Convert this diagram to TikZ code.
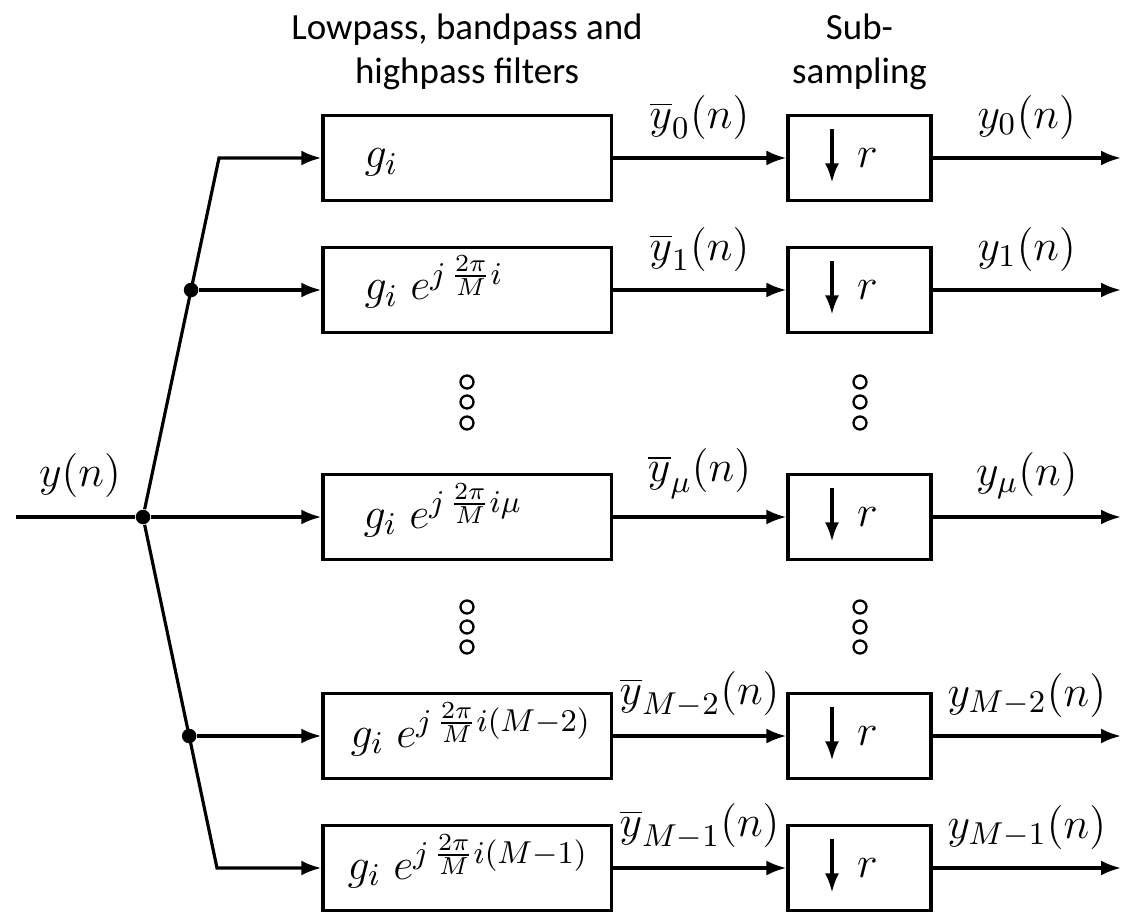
\RequirePackage{fix-cm}
\documentclass[tikz,border=0pt]{standalone}
\usepackage{fontspec}
\newfontfamily\headfont{Carlito}
\usetikzlibrary{arrows.meta, calc}
\DeclareMathSizes{12.5}{12.5}{9}{7}
\newcommand\mathfs{\fontsize{12.5}{15}\selectfont}
\tikzset{
  filt/.style  = {draw, line width=0.9pt, minimum width=2.88cm,
                  minimum height=0.85cm, inner sep=0pt},
  subs/.style  = {filt, minimum width=1.43cm, font=\mathfs,
                  path picture={\draw[line width=0.9pt,
                    -{Latex[length=1.9mm, width=1.4mm]}]
                    ([xshift=-0.275cm, yshift=-0.14cm]path picture bounding box.north)
                    -- ++(0,53);}},
  ftxt/.style  = {anchor=base west, inner sep=0pt, font=\mathfs},
  wire/.style  = {line width=0.9pt},
  sig/.style   = {wire, -{Latex[length=2mm, width=1.5mm]}},
  junc/.style  = {circle, fill, inner sep=0pt, minimum size=1.45mm},
  ylab/.style  = {above=0.1cm, inner sep=2pt, font=\mathfs},
  ell/.style   = {circle, draw, line width=0.65pt, minimum size=1.3mm, inner sep=0pt},
  head/.style  = {font=\headfont\fontsize{10.5}{12.5}\selectfont, align=center},
}
\begin{document}
\begin{tikzpicture}[x=0.01cm, y=-0.01cm]
  \useasboundingbox (0,0) rectangle (1134,922);
  % headings
  \node[head, anchor=north] (hfilt) at (467,1) {Lowpass, bandpass and\\highpass filters};
  \node[head, anchor=north] (hsub) at (859.5,1) {Sub-\\sampling};
  % filter bank
  \node[filt] (g0) at (467,158) {};
  \node[filt] (g1) at (467,290) {};
  \node[filt] (gmu) at (467,517) {};
  \node[filt] (gm2) at (467,736) {};
  \node[filt] (gm1) at (467,868) {};
  \node[ftxt] at (364,168) {$g_i$};
  \node[ftxt] at (364,300) {$g_i\; e^{j\,\frac{2\pi}{M}i}$};
  \node[ftxt] at (363,528) {$g_i\; e^{j\,\frac{2\pi}{M}i\mu}$};
  \node[ftxt] at (350,747) {$g_i\; e^{j\,\frac{2\pi}{M}i(M-2)}$};
  \node[ftxt] at (347,879) {$g_i\; e^{j\,\frac{2\pi}{M}i(M-1)}$};
  % sub-sampling
  \node[subs] (d0) at (859.5,158) {\hspace*{0.16cm}$r$};
  \node[subs] (d1) at (859.5,290) {\hspace*{0.16cm}$r$};
  \node[subs] (dmu) at (859.5,517) {\hspace*{0.16cm}$r$};
  \node[subs] (dm2) at (859.5,736) {\hspace*{0.16cm}$r$};
  \node[subs] (dm1) at (859.5,868) {\hspace*{0.16cm}$r$};
  % input and branching
  \coordinate (yin) at (16,517);
  \node[junc] (bmu) at (143,517) {};
  \coordinate (k0) at (219,158);
  \coordinate (k4) at (217,868);
  \node[junc] (b1) at ($(bmu)!0.6323!(k0)$) {};
  \node[junc] (bm2) at ($(bmu)!0.6239!(k4)$) {};
  \node[font=\mathfs, inner sep=0pt] (ylabel) at (80,476) {$y(n)$};
  \draw[wire] (yin) -- (bmu);
  \draw[sig] (bmu) -- (bmu -| gmu.west);
  \draw[sig] (bmu) -- (k0) -- (k0 -| g0.west);
  \draw[sig] (bmu) -- (k4) -- (k4 -| gm1.west);
  \draw[sig] (b1) -- (b1 -| g1.west);
  \draw[sig] (bm2) -- (bm2 -| gm2.west);
  % filter -> sub-sampling
  \draw[sig] (g0) -- node[ylab] {$\overline{y}_0(n)$} (d0);
  \draw[sig] (g1) -- node[ylab] {$\overline{y}_1(n)$} (d1);
  \draw[sig] (gmu) -- node[ylab] {$\overline{y}_\mu(n)$} (dmu);
  \draw[sig] (gm2) -- node[ylab] {$\overline{y}_{M-2}(n)$} (dm2);
  \draw[sig] (gm1) -- node[ylab] {$\overline{y}_{M-1}(n)$} (dm1);
  % outputs
  \coordinate (o0) at (1121,158);
  \coordinate (o1) at (1121,290);
  \coordinate (omu) at (1121,517);
  \coordinate (om2) at (1121,736);
  \coordinate (om1) at (1121,868);
  \draw[sig] (d0) -- node[ylab] {$y_0(n)$} (o0);
  \draw[sig] (d1) -- node[ylab] {$y_1(n)$} (o1);
  \draw[sig] (dmu) -- node[ylab] {$y_\mu(n)$} (omu);
  \draw[sig] (dm2) -- node[ylab] {$y_{M-2}(n)$} (om2);
  \draw[sig] (dm1) -- node[ylab] {$y_{M-1}(n)$} (om1);
  % skipped branches
  \foreach \xx in {467,860}
    \foreach \yy in {382,402,423,607,627,647}
      \node[ell] at (\xx,\yy) {};
\end{tikzpicture}
\end{document}
